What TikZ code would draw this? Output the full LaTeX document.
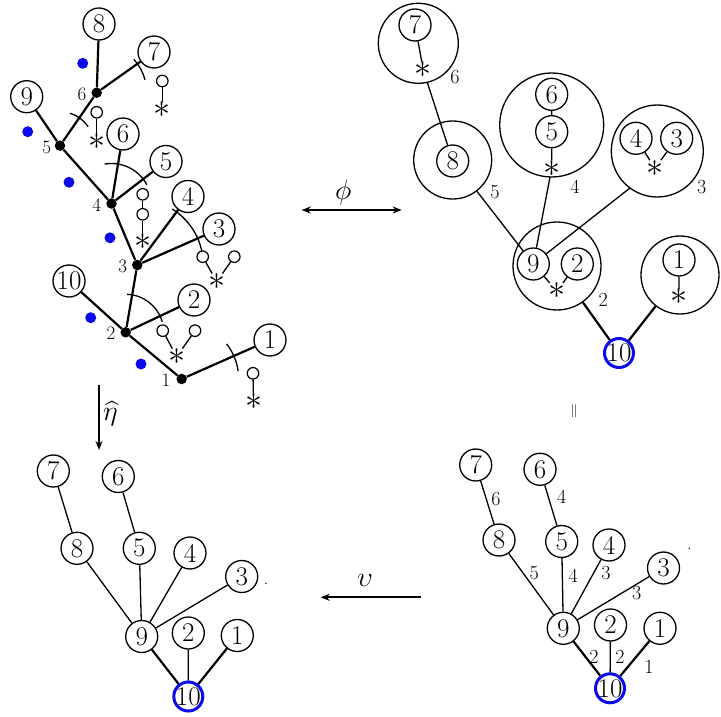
\documentclass[tikz,border=0pt]{standalone}
\usepackage{fix-cm}
\usepackage{exscale}
\usetikzlibrary{arrows.meta}
\definecolor{ringblue}{RGB}{10,10,235}
\begin{document}
\begin{tikzpicture}[x=1pt,y=-1pt,
 nd/.style={circle,draw,line width=1.3pt,minimum size=32pt,inner sep=0pt,font=\fontsize{27}{29}\selectfont},
 rootnd/.style={nd,draw=ringblue,line width=3pt,minimum size=29pt,inner sep=-1.5pt},
 big/.style={circle,draw,line width=1.3pt,inner sep=0pt},
 bdot/.style={circle,fill,inner sep=0pt,minimum size=10.5pt},
 bldot/.style={circle,fill=ringblue,inner sep=0pt,minimum size=11pt},
 lol/.style={circle,draw,line width=1.2pt,inner sep=0pt,minimum size=11.5pt},
 ast/.style={inner sep=0pt,font=\fontsize{34}{36}\selectfont},
 lab/.style={inner sep=0pt,font=\fontsize{19}{21}\selectfont},
 elab/.style={inner sep=0pt,font=\fontsize{20}{22}\selectfont},
 mlab/.style={inner sep=0pt,font=\fontsize{28}{30}\selectfont},
 thk/.style={line width=2.2pt},
 thn/.style={line width=1.3pt},
 tip/.style={-{Stealth[length=9pt,width=7pt]}},
]
\useasboundingbox (0,0) rectangle (721,717);

% ---------------- top-left tree ----------------
\node[bdot] (d1) at (181.7,379) {};
\node[bdot] (d2) at (125.7,332.3) {};
\node[bdot] (d3) at (137.3,265) {};
\node[bdot] (d4) at (111.5,203.5) {};
\node[bdot] (d5) at (60,145.7) {};
\node[bdot] (d6) at (96.7,92.7) {};
\node[lab] at (166,380) {1};
\node[lab] at (111,333) {2};
\node[lab] at (122.7,266) {3};
\node[lab] at (96.7,205) {4};
\node[lab] at (46.7,147) {5};
\node[lab] at (82,94) {6};

\node[nd] (a8) at (99,24) {8};
\node[nd] (a7) at (154,52) {7};
\node[nd] (a9) at (26.7,96.7) {9};
\node[nd] (a6) at (123,134) {6};
\node[nd] (a5) at (166,161.5) {5};
\node[nd] (a4) at (188,196.5) {4};
\node[nd] (a3) at (219,229) {3};
\node[nd] (a10) at (69,281) {10};
\node[nd] (a2) at (194,300) {2};
\node[nd] (a1) at (270,340) {1};

\draw[thk] (d1) -- (d2) (d2) -- (d3) (d3) -- (d4) (d4) -- (d5) (d5) -- (d6);
\draw[thk] (d6) -- (a8) (d6) -- (a7) (d5) -- (a9) (d4) -- (a6) (d4) -- (a5)
  (d3) -- (a4) (d3) -- (a3) (d2) -- (a10) (d2) -- (a2) (d1) -- (a1);

\draw[thn] (d6) ++(-15:50) arc[start angle=-15,end angle=-42,radius=50];
\draw[thn] (d5) ++(-34:34) arc[start angle=-34,end angle=-73,radius=34];
\draw[thn] (d4) ++(-28:40) arc[start angle=-28,end angle=-100,radius=40];
\draw[thn] (d3) ++(-12:66) arc[start angle=-12,end angle=-58,radius=66];
\draw[thn] (d2) ++(-16:38) arc[start angle=-16,end angle=-88,radius=38];
\draw[thn] (d1) ++(-8:57) arc[start angle=-8,end angle=-38,radius=57];

\node[lol] (p7) at (162.3,81) {};
\node[ast] (s7) at (162.3,110) {$\ast$};
\draw[thn] (p7) -- (s7);
\node[lol] (p6) at (96.7,112.3) {};
\node[ast] (s6) at (96.7,141.7) {$\ast$};
\draw[thn] (p6) -- (s6);
\node[lol] (p4a) at (142.7,194.3) {};
\node[lol] (p4b) at (142.7,214.3) {};
\node[ast] (s4) at (142.7,241.7) {$\ast$};
\draw[thn] (p4a) -- (p4b) (p4b) -- (s4);
\node[lol] (p3a) at (202.7,256.7) {};
\node[lol] (p3b) at (234.3,256.7) {};
\node[ast] (s3) at (216.7,281.7) {$\ast$};
\draw[thn] (p3a) -- (s3) (p3b) -- (s3);
\node[lol] (p2a) at (162.7,330.7) {};
\node[lol] (p2b) at (195,330.7) {};
\node[ast] (s2) at (176.7,356.7) {$\ast$};
\draw[thn] (p2a) -- (s2) (p2b) -- (s2);
\node[lol] (p1) at (253,373.3) {};
\node[ast] (s1) at (253.5,401.7) {$\ast$};
\draw[thn] (p1) -- (s1);

\foreach \p in {(82.7,63.3),(27.7,131.7),(69,182.3),(110,237.8),(90.7,317.7),(141,364)}
  \node[bldot] at \p {};

% ---------------- top-right tree of trees ----------------
\node[big,minimum size=80pt] (bA) at (418.3,43.3) {};
\node[big,minimum size=78pt] (bB) at (452.7,160) {};
\node[big,minimum size=104pt] (bC) at (551.7,125) {};
\node[big,minimum size=92pt] (bD) at (657.3,151) {};
\node[big,minimum size=88pt] (bE) at (557,266) {};
\node[big,minimum size=78pt] (bF) at (680,275) {};

\node[nd] (t7) at (415,25) {7};
\node[ast] (tA) at (423.3,70) {$\ast$};
\node[nd] (t8) at (452.7,161) {8};
\node[nd] (t6) at (551.7,94.3) {6};
\node[nd] (t5) at (551.7,131.7) {5};
\node[ast] (tC) at (551.7,168.3) {$\ast$};
\node[nd] (t4) at (636,138.3) {4};
\node[nd] (t3) at (676.7,138.3) {3};
\node[ast] (tD) at (655,168.3) {$\ast$};
\node[nd] (t9) at (533.3,264) {9};
\node[nd] (t2) at (577.3,264) {2};
\node[ast] (tE) at (556.7,291) {$\ast$};
\node[nd] (t1) at (679,260) {1};
\node[ast] (tF) at (679,297) {$\ast$};
\node[rootnd] (t10) at (619,353) {10};

\draw[thn] (t7) -- (tA) (t6) -- (t5) (t5) -- (tC) (t4) -- (tD) (t3) -- (tD)
  (t9) -- (tE) (t2) -- (tE) (t1) -- (tF);
\draw[thn,shorten <=13pt] (tA.center) -- (t8);
\draw[thn] (bB) -- (t9);
\draw[thn,shorten <=8.8pt] (tC.center) -- (t9);
\draw[thn,shorten <=31.8pt] (tD.center) -- (t9);
\draw[thk] (bE) -- (t10) (bF) -- (t10);

\node[elab] at (455,77) {6};
\node[elab] at (495,192) {5};
\node[elab] at (575,187) {4};
\node[elab] at (701.7,187) {3};
\node[elab] at (603.3,300) {2};
\node[elab] at (725,306) {1};

% ---------------- arrows ----------------
\coordinate (phiL) at (301.7,210);
\coordinate (phiR) at (401.7,210);
\draw[line width=1.8pt,{Stealth[length=9pt,width=7pt]}-{Stealth[length=9pt,width=7pt]}] (phiL) -- (phiR);
\node[mlab] (phi) at (343.3,192) {$\phi$};

\coordinate (etaT) at (99,385);
\coordinate (etaB) at (99,450);
\draw[thn,tip] (etaT) -- (etaB);
\node[mlab,anchor=west] (eta) at (103,414) {$\widehat{\eta}$};

\coordinate (upsR) at (420.7,597.3);
\coordinate (upsL) at (320.7,597.3);
\draw[line width=1.8pt,tip] (upsR) -- (upsL);
\node[mlab] (ups) at (365,580) {$\upsilon$};

\node[inner sep=0pt,font=\fontsize{13}{14}\selectfont] (eq) at (574,411.7) {$\|$};

% ---------------- bottom-left tree ----------------
\node[nd] (b7) at (53.3,471) {7};
\node[nd] (b6) at (118.3,476.5) {6};
\node[nd] (b8) at (77,548.3) {8};
\node[nd] (b5) at (139.3,548.3) {5};
\node[nd] (b4) at (190,553) {4};
\node[nd] (b3) at (241.7,576.5) {3};
\node[nd] (b9) at (141.7,636.5) {9};
\node[nd] (b2) at (188.3,633) {2};
\node[nd] (b1) at (237.3,635.5) {1};
\node[rootnd] (b10) at (188.3,696.5) {10};
\draw[thn] (b7) -- (b8) (b6) -- (b5) (b8) -- (b9) (b5) -- (b9) (b4) -- (b9) (b3) -- (b9) (b2) -- (b10);
\draw[thk] (b9) -- (b10) (b1) -- (b10);
\fill (266,583.3) circle[radius=0.8];

% ---------------- bottom-right tree ----------------
\node[nd] (c7) at (475.7,465) {7};
\node[nd] (c6) at (540,469.3) {6};
\node[nd] (c8) at (499,540) {8};
\node[nd] (c5) at (561.7,541.5) {5};
\node[nd] (c4) at (609,545) {4};
\node[nd] (c3) at (663.5,568) {3};
\node[nd] (c9) at (563.3,628.3) {9};
\node[nd] (c2) at (610.5,625) {2};
\node[nd] (c1) at (660,628.3) {1};
\node[rootnd] (c10) at (610,688.3) {10};
\draw[thn] (c7) -- (c8) (c6) -- (c5) (c8) -- (c9) (c5) -- (c9) (c4) -- (c9) (c3) -- (c9) (c2) -- (c10);
\draw[thk] (c9) -- (c10) (c1) -- (c10);
\node[elab] at (496,499.3) {6};
\node[elab] at (561.7,496.7) {4};
\node[elab] at (534.3,572.7) {5};
\node[elab] at (573.3,576) {4};
\node[elab] at (606,573.3) {3};
\node[elab] at (636.7,593.3) {3};
\node[elab] at (594,656.7) {2};
\node[elab] at (620,656.7) {2};
\node[elab] at (649,666.7) {1};
\fill (689.3,548.3) circle[radius=0.8];
\end{tikzpicture}
\end{document}
